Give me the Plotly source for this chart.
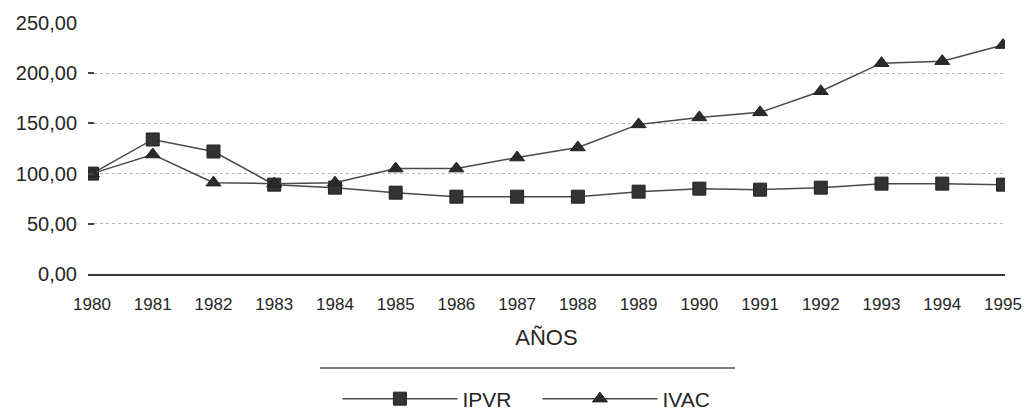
import plotly.graph_objects as go

years = list(range(1980, 1996))
year_labels = [str(y) for y in years]
ipvr = [100, 134, 122, 89, 86, 81, 77, 77, 77, 82, 85, 84, 86, 90, 90, 89]
ivac = [100, 119, 91, 90, 91, 105, 105, 116, 126, 149, 156, 161, 182, 210, 212, 228]
y_ticks = [0, 50, 100, 150, 200, 250]
y_tick_labels = ["0,00", "50,00", "100,00", "150,00", "200,00", "250,00"]

FONT = "Liberation Sans, Arial, sans-serif"
INK = "#262626"

fig = go.Figure()
fig.add_trace(go.Scatter(
    x=years, y=ipvr, name="IPVR", mode="lines+markers",
    line=dict(color="#4a4a4a", width=1.5),
    marker=dict(symbol="square", size=13, color="#333333",
                line=dict(color="#222222", width=1)),
))
fig.add_trace(go.Scatter(
    x=years, y=ivac, name="IVAC", mode="lines+markers",
    line=dict(color="#4a4a4a", width=1.5),
    marker=dict(symbol="triangle-up", size=13, color="#2a2a2a",
                line=dict(color="#222222", width=1)),
))

fig.update_layout(
    width=1033, height=417,
    margin=dict(l=88, r=28, t=22, b=143, autoexpand=False),
    paper_bgcolor="white", plot_bgcolor="white",
    font=dict(family=FONT, color=INK),
    showlegend=True,
    legend=dict(orientation="h", x=0.272, xanchor="left", y=-0.496, yanchor="middle",
                itemwidth=115, entrywidth=70, entrywidthmode="pixels",
                font=dict(size=21, color=INK),
                bgcolor="rgba(0,0,0,0)"),
    xaxis=dict(
        range=[1979.934, 1995.033], automargin=False,
        tickmode="array", tickvals=years, ticktext=year_labels,
        tickfont=dict(size=17, color=INK),
        showgrid=False, zeroline=False,
        showline=True, linecolor="#3a3a3a", linewidth=1.5,
        ticks="", ticklabelstandoff=14,
        title=dict(text="AÑOS", font=dict(size=22, color=INK), standoff=16),
    ),
    yaxis=dict(
        range=[0, 251], automargin=False,
        tickmode="array", tickvals=y_ticks, ticktext=y_tick_labels,
        tickfont=dict(size=20, color=INK),
        showgrid=True, gridcolor="#b8b8b8", gridwidth=1, griddash="dot",
        zeroline=False, showline=False,
        ticks="inside", ticklen=6, tickcolor="#444444", tickwidth=1.5,
        ticklabelstandoff=10,
    ),
)

fig.add_shape(type="line", xref="paper", yref="paper",
              x0=0.253, x1=0.7056, y0=-0.373, y1=-0.373,
              line=dict(color="#555555", width=1.5))

fig.write_html("out.html", config={"displayModeBar": False},
               post_script="document.body.style.margin='0';")
